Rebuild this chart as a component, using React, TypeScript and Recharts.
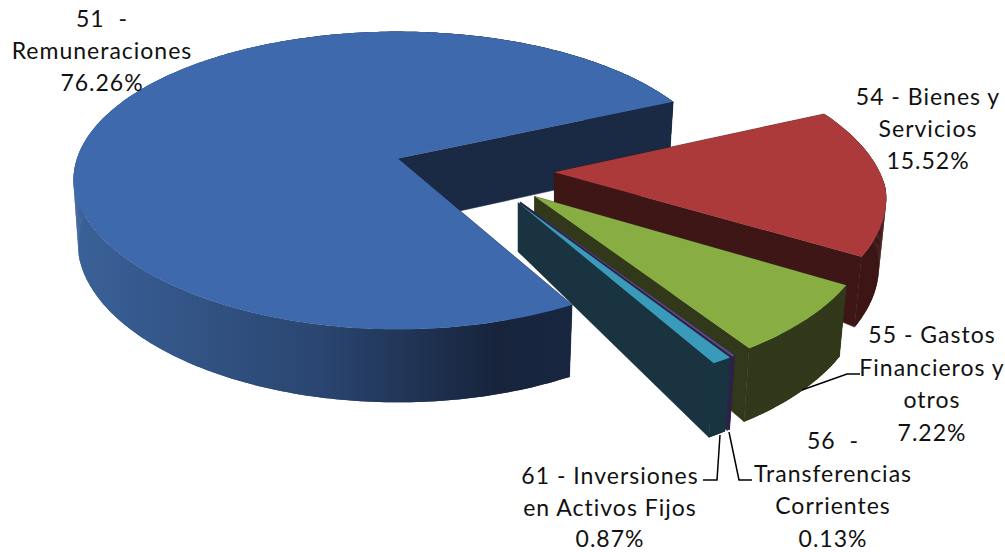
import { PieChart, Pie } from 'recharts';

const categories = [
  '51 - Remuneraciones',
  '54 - Bienes y Servicios',
  '55 - Gastos Financieros y otros',
  '56 - Transferencias Corrientes',
  '61 - Inversiones en Activos Fijos',
];
const shares = [76.26, 15.52, 7.22, 0.13, 0.87];
const shareLabels = ['76.26%', '15.52%', '7.22%', '0.13%', '0.87%'];
const labelLines = [
  ['51\u00a0 -', 'Remuneraciones'],
  ['54 - Bienes y', 'Servicios'],
  ['55 - Gastos', 'Financieros y', 'otros'],
  ['56\u00a0 -', 'Transferencias', 'Corrientes'],
  ['61 - Inversiones', 'en Activos Fijos'],
];

const topColors = ['#3e69ac', '#ad3a3b', '#88ad42', '#5e4a8a', '#3a9aba'];
const sideColors = ['#1b2a44', '#3e1616', '#32391a', '#2f2248', '#193440'];
const wallFills = ['url(#blueWall)', '#3e1616', '#32391a', '#2f2248', '#193440'];
const tipHeights = [66, 32, 45, 48, 49];

const chartData = categories.map((name, i) => ({ name, value: shares[i] }));

// fake 3D: the pie's own angles get projected on a tilted plane
const PIE_CX = 474;
const PIE_CY = 170;
const PIE_R = 321;
const TILT = 0.454;
const PERSPECTIVE = 0.147;
const EXPLODE = 0.247;
const CAM_X = -0.235;
const CAM_Y = 0.0753;
const SHEAR = 0.036;
const WALL_SHRINK = 0.985;

const RAD = Math.PI / 180;

// t = 0 at the slice's tip, 1 on its rim; the wall is lower towards the tip
const project = (cx: number, cy: number, R: number, x: number, y: number, t: number, tipH: number) => {
  const Q = R * TILT;
  const w0 = 1 - PERSPECTIVE * CAM_Y;
  const axisX = cx + (R * CAM_X) / w0;
  const axisY = cy - (Q * CAM_Y) / w0;
  const yr = y - CAM_Y;
  const w = 1 + PERSPECTIVE * yr;
  const sx = axisX + ((R * (x - CAM_X)) / w) * (1 + SHEAR * Math.min(0, yr + 0.2));
  const sy = axisY - (Q * yr) / w;
  const h = tipH * (1 - t) + (66 - 7 * yr) * t;
  const bx = axisX + (sx - axisX) * (1 - (1 - WALL_SHRINK) * t);
  return { sx, sy, bx, by: sy + h };
};

type Pt = [number, number];

const toPath = (pts: Pt[]) =>
  pts.map((p, i) => `${i ? 'L' : 'M'}${p[0].toFixed(1)},${p[1].toFixed(1)}`).join(' ') + ' Z';

const Slice3D = (props: any) => {
  const { cx, cy, outerRadius, startAngle, endAngle } = props;
  const idx = categories.indexOf(props.name ?? props.payload?.name);
  const mid = ((startAngle + endAngle) / 2) * RAD;
  const ox = EXPLODE * Math.cos(mid);
  const oy = EXPLODE * Math.sin(mid);
  const pt = (x: number, y: number, t: number) => project(cx, cy, outerRadius, x + ox, y + oy, t, tipHeights[idx]);

  const arc = [];
  const n = Math.max(2, Math.ceil(Math.abs(startAngle - endAngle)));
  for (let i = 0; i <= n; i++) {
    const a = (startAngle + ((endAngle - startAngle) * i) / n) * RAD;
    arc.push(pt(Math.cos(a), Math.sin(a), 1));
  }
  const apex = pt(0, 0, 0);
  const first = arc[0];
  const last = arc[arc.length - 1];

  const top: Pt[] = [[apex.sx, apex.sy], ...arc.map((p) => [p.sx, p.sy] as Pt)];
  const wall: Pt[] = [
    ...arc.map((p) => [p.sx, p.sy] as Pt),
    ...[...arc].reverse().map((p) => [p.bx, p.by] as Pt),
  ];
  const face = (e: typeof apex): Pt[] => [
    [apex.sx, apex.sy],
    [e.sx, e.sy],
    [e.bx, e.by],
    [apex.bx, apex.by],
  ];

  return (
    <g>
      <path d={toPath(face(first))} fill={sideColors[idx]} stroke={sideColors[idx]} strokeWidth={0.5} />
      <path d={toPath(wall)} fill={wallFills[idx]} />
      {arc.slice(0, -1).map((p, i) => (
        <path
          key={i}
          d={toPath([
            [p.sx, p.sy],
            [arc[i + 1].sx, arc[i + 1].sy],
            [arc[i + 1].bx, arc[i + 1].by],
            [p.bx, p.by],
          ])}
          fill={wallFills[idx]}
        />
      ))}
      <path d={toPath(face(last))} fill={sideColors[idx]} stroke={sideColors[idx]} strokeWidth={0.5} />
      <path d={toPath(top)} fill={topColors[idx]} />
    </g>
  );
};

const labelSpots = [
  { x: 102, y: 27, step: 32 },
  { x: 928, y: 105, step: 32 },
  { x: 932, y: 343, step: 32.5 },
  { x: 833, y: 449, step: 32.5 },
  { x: 610, y: 484, step: 31.5 },
];
const leaders: (string | null)[] = [
  null,
  null,
  '802,390 847,374 860,374',
  '729,432 739,480 752,480',
  '720,435 717,480 703,480',
];

const renderLabel = (props: any) => {
  const { index } = props;
  const spot = labelSpots[index];
  const lines = [...labelLines[index], shareLabels[index]];
  return (
    <g key={index}>
      {leaders[index] && <polyline points={leaders[index] as string} fill="none" stroke="#000" strokeWidth={1.5} />}
      <text
        x={spot.x}
        y={spot.y}
        textAnchor="middle"
        fontFamily="Lato, 'Open Sans', sans-serif"
        fontSize={23}
        letterSpacing={1}
        fill="#111"
      >
        {lines.map((line, i) => (
          <tspan key={i} x={spot.x} y={spot.y + i * spot.step}>
            {line}
          </tspan>
        ))}
      </text>
    </g>
  );
};

export default function App() {
  return (
    <div style={{ position: 'absolute', left: 0, top: 0, width: 1005, height: 552, background: '#fff' }}>
      <PieChart width={1005} height={552} margin={{ top: 0, right: 0, bottom: 0, left: 0 }}>
        <defs>
          <linearGradient id="blueWall" gradientUnits="userSpaceOnUse" x1="75" y1="0" x2="570" y2="0">
            <stop offset="0" stopColor="#3a6198" />
            <stop offset="0.5" stopColor="#2a4570" />
            <stop offset="0.85" stopColor="#17243c" />
            <stop offset="1" stopColor="#18263f" />
          </linearGradient>
        </defs>
        <Pie
          data={chartData}
          dataKey="value"
          nameKey="name"
          cx={PIE_CX}
          cy={PIE_CY}
          innerRadius={0}
          outerRadius={PIE_R}
          startAngle={-61}
          endAngle={-421}
          stroke="none"
          shape={Slice3D}
          label={renderLabel}
          labelLine={false}
          isAnimationActive={false}
        />
      </PieChart>
    </div>
  );
}
